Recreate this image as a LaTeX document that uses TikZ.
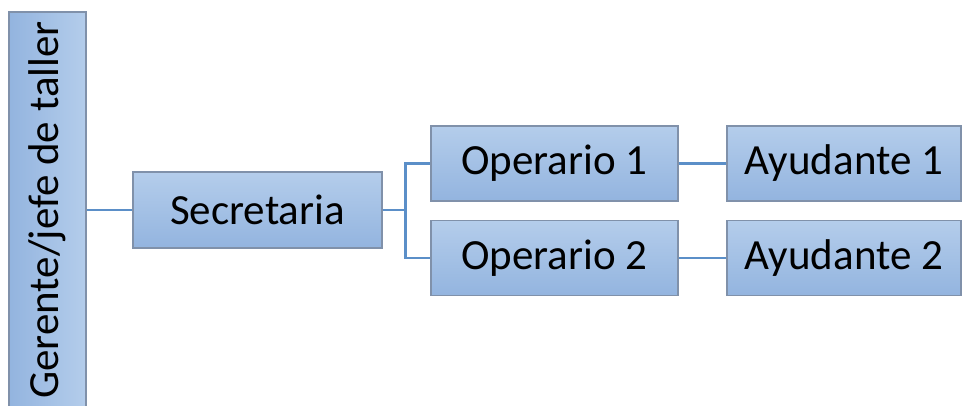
\documentclass[tikz,border=0pt]{standalone}
\usepackage{fontspec}
\setmainfont{Carlito}
\usepackage{tikz}
\definecolor{boxtop}{HTML}{B4CDEB}
\definecolor{boxbot}{HTML}{93B4DF}
\definecolor{boxline}{HTML}{8091AA}
\definecolor{linkblue}{HTML}{5B8FC8}

\begin{document}
\begin{tikzpicture}[
    x=1pt,y=-1pt,
    post/.style={rectangle,draw=boxline,line width=1.2pt,
        inner sep=0pt,font=\fontsize{43}{50}\selectfont},
    flat/.style={post,top color=boxtop,bottom color=boxbot},
    link/.style={draw=linkblue,line width=2.5pt},
]
    \clip (0,0) rectangle (962,405);
    \node[post,rotate=90,left color=boxbot,right color=boxtop,
        minimum width=396pt,minimum height=77pt] (ger) at (47.5,210) {Gerente/jefe de taller};
    \node[flat,minimum width=249pt,minimum height=76pt] (sec) at (257.5,210) {Secretaria};
    \node[flat,minimum width=247pt,minimum height=75pt] (op1) at (554.5,163.5) {Operario 1};
    \node[flat,minimum width=247pt,minimum height=75pt] (op2) at (554.5,258) {Operario 2};
    \node[flat,minimum width=234pt,minimum height=75pt] (ay1) at (844,163.5) {Ayudante 1};
    \node[flat,minimum width=234pt,minimum height=75pt] (ay2) at (844,258) {Ayudante 2};

    \draw[link] (ger.south) -- (sec.west);
    \draw[link] (sec.east) -- ++(23,0) |- (op1.west);
    \draw[link] (sec.east) -- ++(23,0) |- (op2.west);
    \draw[link] (op1.east) -- (ay1.west);
    \draw[link] (op2.east) -- (ay2.west);
\end{tikzpicture}
\end{document}
